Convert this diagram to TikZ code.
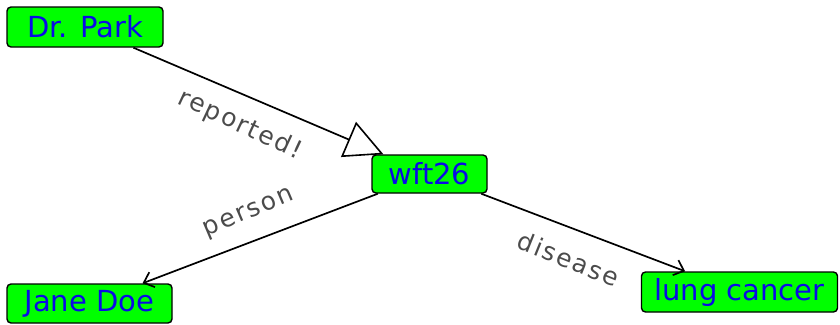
\documentclass[tikz,border=0pt]{standalone}
\usepackage{fontspec}
\setmainfont{DejaVu Sans}
\newfontfamily\lblfont[LetterSpace=8]{DejaVu Sans}
\usetikzlibrary{arrows.meta}
\definecolor{nodegreen}{RGB}{0,255,0}
\definecolor{nodeblue}{RGB}{10,10,230}
\definecolor{lblgray}{RGB}{75,75,75}
\tikzset{
  entity/.style={draw=black, line width=1.4pt, fill=nodegreen, rounded corners=4pt,
    text=nodeblue, font=\fontsize{29}{29}\selectfont, inner sep=0pt, anchor=center},
  rel/.style={draw=black, line width=1.7pt},
  barb/.style={-{Straight Barb[length=9pt,width=16pt,line width=1.7pt]}},
  tri/.style={-{Triangle[open,length=38pt,width=38pt,fill=white,line width=1.6pt]}},
  lbl/.style={text=lblgray, font=\lblfont\fontsize{25}{25}\selectfont, inner sep=0pt}
}
\begin{document}
\begin{tikzpicture}[x=1pt,y=-1pt]
\useasboundingbox (0,0) rectangle (840,324);
\node[entity, minimum width=156pt, minimum height=40pt] (park) at (85,27) {Dr. Park};
\node[entity, minimum width=115pt, minimum height=38pt] (wft) at (429.5,174) {wft26};
\node[entity, minimum width=165pt, minimum height=39pt] (jane) at (89.5,303.5) {Jane Doe};
\node[entity, minimum width=196pt, minimum height=40pt] (lung) at (739.5,292) {lung cancer};
\draw[rel, tri] (park) -- (wft);
\draw[rel, barb] (wft) -- (jane);
\draw[rel, barb] (wft) -- (lung);
\node[lbl, rotate=-25] (lrep) at (240,125) {reported!};
\node[lbl, rotate=23] (lper) at (249,214) {person};
\node[lbl, rotate=-22] (ldis) at (569,259) {disease};
\end{tikzpicture}
\end{document}
